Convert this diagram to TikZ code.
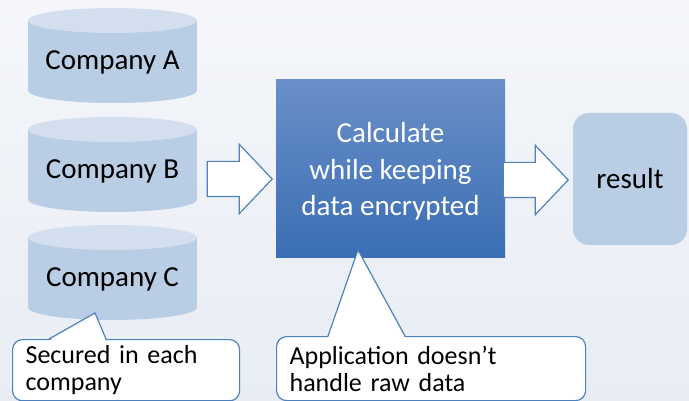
\documentclass[tikz,border=0pt]{standalone}
\usepackage{fontspec}
\setmainfont{Carlito}
\usetikzlibrary{positioning, shapes.arrows}

\definecolor{bgtop}{HTML}{F4F6FA}
\definecolor{bgbottom}{HTML}{E8EDF4}
\definecolor{cylbody}{HTML}{B9CDE5}
\definecolor{cyltop}{HTML}{D3DFEE}
\definecolor{calctop}{HTML}{6A8FC9}
\definecolor{calcbottom}{HTML}{3A6EB3}
\definecolor{edgeblue}{HTML}{4F81BD}

\begin{document}
\begin{tikzpicture}[
    x=1pt, y=-1pt,
    company/.style={
        rectangle,
        minimum width=169pt,
        minimum height=95pt,
        inner sep=0pt,
        text height=34pt,
        text depth=5.5pt,
        font=\fontsize{29}{35}\selectfont,
        path picture={
            \fill[cylbody] ([yshift=-12.5pt]path picture bounding box.north west) rectangle ([yshift=12.5pt]path picture bounding box.south east);
            \fill[cylbody] ([yshift=12.5pt]path picture bounding box.south) ellipse [x radius=84.5pt, y radius=12.5pt];
            \fill[cyltop] ([yshift=-12.5pt]path picture bounding box.north) ellipse [x radius=84.5pt, y radius=12.5pt];
        }
    },
    calcbox/.style={
        rectangle,
        top color=calctop,
        bottom color=calcbottom,
        minimum width=229pt,
        minimum height=178pt,
        text depth=-4pt,
        text=white,
        align=center,
        font=\fontsize{29}{36.5}\selectfont
    },
    resultbox/.style={
        rectangle,
        rounded corners=16pt,
        fill=cylbody,
        minimum width=114pt,
        minimum height=132pt,
        font=\fontsize{29}{35}\selectfont
    },
    flow/.style={
        single arrow,
        draw=edgeblue,
        fill=white,
        line width=1.2pt,
        single arrow head extend=17pt,
        single arrow tip angle=93,
        minimum height=65pt,
        inner xsep=0pt,
        inner ysep=17pt,
        anchor=tip
    },
    note/.style={
        rectangle,
        rounded corners=10pt,
        draw=edgeblue,
        fill=white,
        line width=1.2pt,
        anchor=north west,
        align=left,
        inner xsep=13pt,
        inner ysep=6pt,
        font=\fontsize{26}{27}\selectfont
    },
    pointer/.style={
        draw=edgeblue,
        line width=1.2pt,
        line join=miter
    }
]

% Background
\useasboundingbox (0,0) rectangle (689,401);
\shade[top color=bgtop, bottom color=bgbottom] (0,0) rectangle (689,401);

% Data held by each company
\node[company] (compA) at (112.5,55.5) {Company A};
\node[company] (compB) at (112.5,164.5) {Company B};
\node[company] (compC) at (112.5,272.5) {Company C};

% Secure computation
\node[calcbox] (calc) at (390.5,169) {Calculate\\while keeping\\data encrypted};

\node[resultbox] (result) at (630,179) {result};

% Arrows
\node[flow] (inflow) at (273,179) {};
\node[flow] (outflow) at (569,180) {};

% Callouts
\node[note, text width=201pt, minimum height=61pt] (secnote) at (12,339) {Secured in each\\company};
\coordinate (sectip) at (95,313);
\fill[white] ([xshift=37pt,yshift=-2pt]secnote.north west) -- (sectip) -- ([xshift=94pt,yshift=-2pt]secnote.north west) -- cycle;
\draw[pointer] ([xshift=37pt]secnote.north west) -- (sectip) -- ([xshift=94pt]secnote.north west);

\node[note, text width=283pt, minimum height=64pt] (appnote) at (276,336) {Application doesn’t\\handle raw data};
\coordinate (apptip) at (358,250);
\fill[white] ([xshift=52pt,yshift=-2pt]appnote.north west) -- (apptip) -- ([xshift=129pt,yshift=-2pt]appnote.north west) -- cycle;
\draw[pointer] ([xshift=52pt]appnote.north west) -- (apptip) -- ([xshift=129pt]appnote.north west);

\end{tikzpicture}
\end{document}
